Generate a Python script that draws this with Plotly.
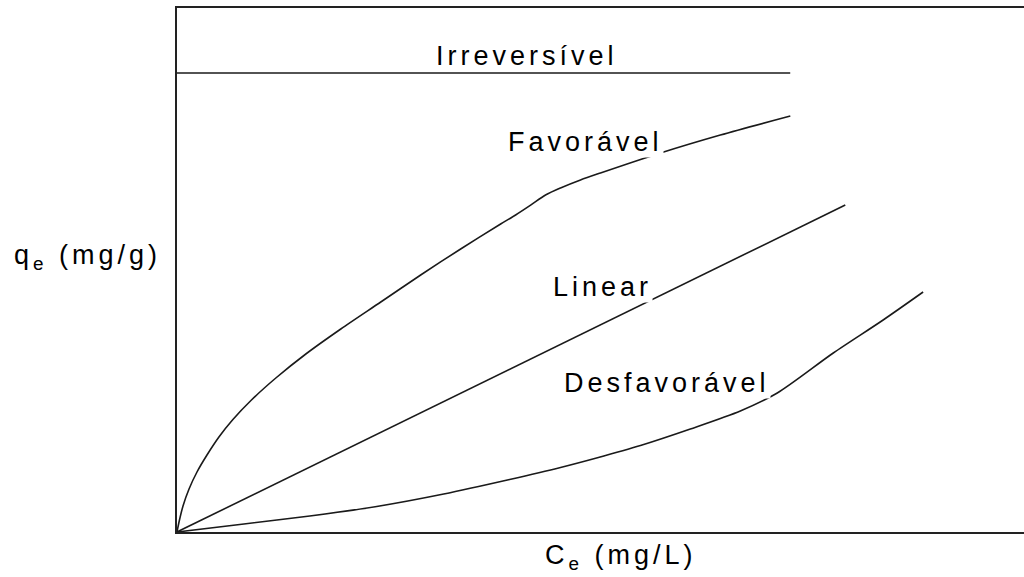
import plotly.graph_objects as go

# Data (arbitrary units; both axes run 0..10)
fav_x = [0, 0.024, 0.071, 0.142, 0.236, 0.354, 0.495, 0.660, 0.873, 1.167, 1.521, 1.934, 2.406,
         2.877, 3.349, 3.821, 3.998, 4.175, 4.351, 4.528, 4.764, 5.0, 5.708, 6.415, 7.241]
fav_y = [0, 0.191, 0.496, 0.821, 1.145, 1.469, 1.813, 2.147, 2.510, 2.939, 3.397, 3.874, 4.389,
         4.905, 5.401, 5.878, 6.050, 6.237, 6.431, 6.565, 6.718, 6.851, 7.233, 7.576, 7.939]
lin_x = [0, 7.89]
lin_y = [0, 6.24]
irr_x = [0, 7.24]
irr_y = [8.76, 8.76]
des_x = [0, 0.790, 1.568, 2.358, 3.149, 3.927, 4.528, 4.953, 5.472, 6.061, 6.651, 7.087, 7.748, 8.337, 8.809]
des_y = [0, 0.153, 0.305, 0.487, 0.725, 1.002, 1.231, 1.412, 1.651, 1.966, 2.309, 2.653, 3.416, 4.046, 4.580]

labels = ["Irreversível", "Favorável", "Linear", "Desfavorável"]
x_title = "C<sub>e</sub> (mg/L)"
y_title = "q<sub>e</sub> (mg/g)"

FONT = "Liberation Sans, Arial, sans-serif"
FSIZE = 27
LS = "letter-spacing:4px"


def sp(t):
    return f'<span style="{LS}">{t}</span>'


fig = go.Figure()
line_style = dict(color="#1a1a1a", width=1.6)
for xs, ys, shp in [(irr_x, irr_y, "linear"), (fav_x, fav_y, "spline"),
                    (lin_x, lin_y, "linear"), (des_x, des_y, "spline")]:
    fig.add_trace(go.Scatter(x=xs, y=ys, mode="lines",
                             line=dict(shape=shp, smoothing=0.8, **line_style),
                             hoverinfo="skip", showlegend=False))

ann_pos = [(4.13, 9.08), (4.82, 7.44), (5.02, 4.68), (5.78, 2.84)]
for txt, (ax, ay) in zip(labels, ann_pos):
    fig.add_annotation(x=ax, y=ay, xref="x", yref="y", text=sp(txt), showarrow=False,
                       font=dict(family=FONT, size=FSIZE, color="black"),
                       bgcolor="white", borderpad=0, xanchor="center", yanchor="middle")

fig.add_annotation(x=0.524, y=-0.048, xref="paper", yref="paper", text=sp(x_title),
                   showarrow=False, font=dict(family=FONT, size=FSIZE, color="black"),
                   xanchor="center", yanchor="middle")
fig.add_annotation(x=(12 - 177) / 847, y=(532 - 257) / 524, xref="paper", yref="paper",
                   text=sp(y_title), showarrow=False,
                   font=dict(family=FONT, size=FSIZE, color="black"),
                   xanchor="left", yanchor="middle")

fig.update_layout(
    width=1024, height=577,
    margin=dict(l=177, r=0, t=8, b=45),
    paper_bgcolor="white", plot_bgcolor="white",
    xaxis=dict(range=[0, 10], showgrid=False, zeroline=False, showticklabels=False,
               ticks="", showline=True, mirror=True, linecolor="#222", linewidth=2),
    yaxis=dict(range=[0, 10], showgrid=False, zeroline=False, showticklabels=False,
               ticks="", showline=True, mirror=False, linecolor="#222", linewidth=2),
)

# remove the page body's default margin so the figure fills the window exactly
fig.write_html("out.html", config={"displayModeBar": False},
               post_script="document.body.style.margin='0';document.body.style.overflow='hidden';")
